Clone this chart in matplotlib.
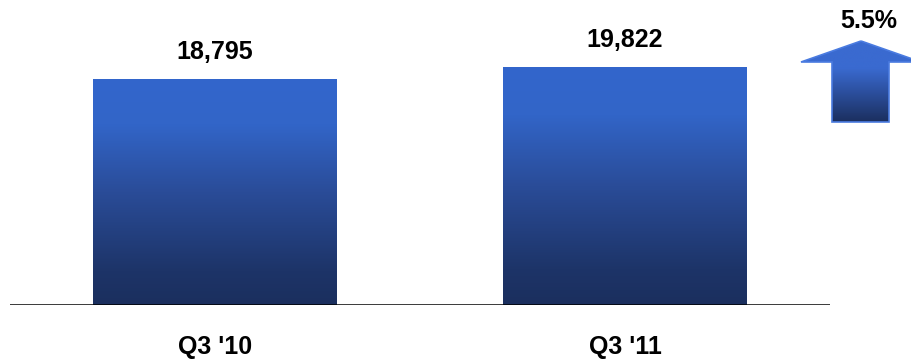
import numpy as np
import matplotlib
matplotlib.use('Agg')
import matplotlib.pyplot as plt
from matplotlib.colors import LinearSegmentedColormap
from matplotlib.patches import Polygon

categories = ["Q3 '10", "Q3 '11"]
values = [18795, 19822]
growth_label = '5.5%'

plt.rcParams['font.family'] = ['Liberation Sans', 'DejaVu Sans']

cmap = LinearSegmentedColormap.from_list(
    'bar', [(0, '#1b2f5e'), (0.15, '#1d3468'), (0.5, '#2a4c98'),
            (0.8, '#3265c8'), (1, '#3366cc')])
grad = np.linspace(0, 1, 256).reshape(-1, 1)

fig = plt.figure(figsize=(9.11, 3.59), dpi=100)
ax = fig.add_axes([10 / 911, 54 / 359, 820 / 911, 305 / 359])
width = 0.593

for i, (cat, v) in enumerate(zip(categories, values)):
    ax.imshow(grad, cmap=cmap, origin='lower', aspect='auto',
              extent=[i - width / 2, i + width / 2, 0, v], zorder=2)
    ax.text(i, v + 2300, f'{v:,}', ha='center', va='center',
            fontsize=18, fontweight='bold')
    ax.text(i, -3500, cat, ha='center', va='center',
            fontsize=18, fontweight='bold', clip_on=False)

ax.set_xlim(-0.5, 1.5)
ax.set_ylim(0, 25440)
ax.axhline(0, color='black', lw=1.8, zorder=3)
for s in ax.spines.values():
    s.set_visible(False)
ax.set_xticks([])
ax.set_yticks([])

# growth arrow, drawn in pixel space on an overlay
ov = fig.add_axes([0, 0, 1, 1])
ov.axis('off')
pts = [(861, 41), (921, 62), (889, 62), (889, 122), (832, 122), (832, 62), (801, 62)]
arrow = Polygon(pts, closed=True, facecolor='none', edgecolor='#4a7be0', lw=1.2, zorder=3)
ov.add_patch(arrow)
acmap = LinearSegmentedColormap.from_list('arr', ['#1b2f5e', '#2a4c98', '#3a6ad0', '#3a6ad0'])
img = ov.imshow(grad, cmap=acmap, origin='lower', aspect='auto',
                extent=[801, 921, 122, 41], zorder=2)
img.set_clip_path(arrow)
ov.set_xlim(0, 911)
ov.set_ylim(359, 0)
ov.text(869, 21, growth_label, ha='center', va='center', fontsize=18, fontweight='bold')

fig.savefig('out.png', dpi=100)
